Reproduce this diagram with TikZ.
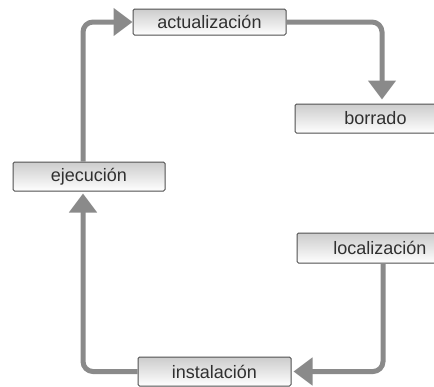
\documentclass[tikz,border=0pt]{standalone}
\usepackage{fontspec}
\setmainfont{Liberation Sans}
\usetikzlibrary{arrows.meta}
\definecolor{conncol}{HTML}{8A8A8A}
\definecolor{boxborder}{HTML}{505050}
\definecolor{txtcol}{HTML}{303030}
\tikzset{
  stepbox/.style={draw=boxborder, line width=1pt, rounded corners=1.5pt,
    top color=black!20, bottom color=white, text=txtcol,
    font=\fontsize{18}{20}\selectfont, inner sep=0pt, anchor=center},
  conn/.style={draw=conncol, line width=5pt, rounded corners=10pt,
    -{Triangle[length=19pt,width=27pt]}}
}
\begin{document}
\begin{tikzpicture}[x=1pt,y=-1pt]
\useasboundingbox (0,0) rectangle (434,386);
\node[stepbox, minimum width=153pt, minimum height=26pt] (act) at (209.5,22) {actualización};
\node[stepbox, minimum width=161pt, minimum height=29pt] (bor) at (375.5,118.5) {borrado};
\node[stepbox, minimum width=152pt, minimum height=29pt] (eje) at (89,176.5) {ejecución};
\node[stepbox, minimum width=166pt, minimum height=30pt] (loc) at (380,248) {localización};
\node[stepbox, minimum width=153pt, minimum height=29pt] (ins) at (214.5,371.5) {instalación};
\draw[conn] ([xshift=-6pt]eje.north) |- (act.west);
\draw[conn, shorten >=4pt] (act.east) -| ([xshift=6.5pt]bor.north);
\draw[conn, shorten >=2pt] ([xshift=3pt]loc.south) |- (ins.east);
\draw[conn, shorten >=2pt] (ins.west) -| ([xshift=-6pt]eje.south);
\end{tikzpicture}
\end{document}
